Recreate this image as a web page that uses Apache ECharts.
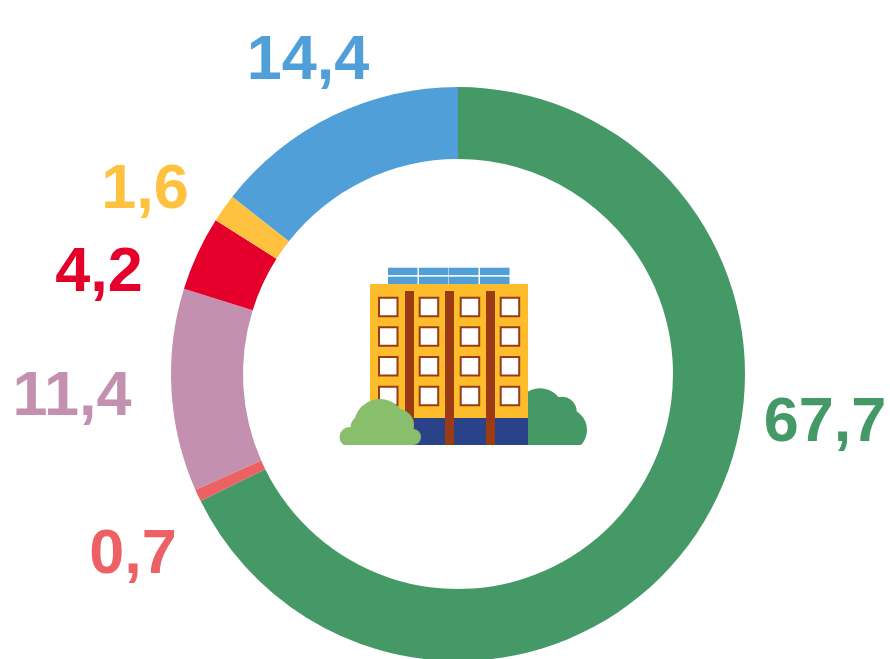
<!DOCTYPE html>
<html>
<head>
<meta charset="utf-8">
<style>
  html, body { margin: 0; padding: 0; background: #fff; }
  #chart { width: 890px; height: 659px; }
</style>
<script src="https://cdn.jsdelivr.net/npm/echarts@6/dist/echarts.min.js"></script>
</head>
<body>
<div id="chart"></div>
<script>
// clockwise from 12 o'clock
var sliceNames = ['A', 'B', 'C', 'D', 'E', 'F']
var sliceValues = [67.7, 0.7, 11.4, 4.2, 1.6, 14.4]
var sliceColors = ['#459966', '#EC6164', '#C490B0', '#E4002B', '#FFC240', '#519FD8']
// label anchors, the labels sit away from the ring
var labelX = [825, 133, 72, 99, 145, 308]
var labelY = [424, 556, 398, 274, 191, 62]

var YELLOW = '#FDBC2C'
var BROWN = '#9A3B14'
var NAVY = '#2A4288'
var SOLAR = '#519FD8'
var BUSH_LIGHT = '#88BE6C'
var BUSH_DARK = '#459966'

function rect(x, y, w, h, fill) {
  return {
    type: 'rect',
    shape: { x: x, y: y, width: w, height: h },
    style: { fill: fill }
  }
}

function circle(cx, cy, r, fill) {
  return { type: 'circle', shape: { cx: cx, cy: cy, r: r }, style: { fill: fill } }
}

// the building in the hole of the ring
function buildingIcon() {
  var els = []
  // dark bush goes behind the building
  els.push(circle(540, 411.7, 23.5, BUSH_DARK))
  els.push(circle(561.7, 411.7, 15, BUSH_DARK))
  els.push(circle(565, 430, 22, BUSH_DARK))
  els.push(rect(528, 410, 37, 35, BUSH_DARK))
  // solar panels
  ;[388, 419, 449, 480].forEach(function (x) {
    els.push(rect(x, 267.7, 29.5, 7.4, SOLAR))
    els.push(rect(x, 276.7, 29.5, 7.3, SOLAR))
  })
  els.push(rect(370, 284, 158, 134, YELLOW))
  els.push(rect(370, 418, 158, 27, NAVY))
  ;[405, 445, 486].forEach(function (x) {
    els.push(rect(x, 291, 9, 154, BROWN))
  })
  ;[379, 419.7, 460.7, 500.7].forEach(function (x) {
    ;[297.7, 327.3, 357, 386.7].forEach(function (y) {
      els.push({
        type: 'rect',
        shape: { x: x, y: y, width: 18.5, height: 18.5 },
        style: { fill: '#fff', stroke: BROWN, lineWidth: 2 }
      })
    })
  })
  // light bush in front, the white rect below cuts both off flat
  els.push(circle(380, 425, 26, BUSH_LIGHT))
  els.push(circle(361.7, 426.7, 11, BUSH_LIGHT))
  els.push(circle(349.5, 437, 10, BUSH_LIGHT))
  els.push(circle(398, 425, 16, BUSH_LIGHT))
  els.push(circle(413, 437, 8, BUSH_LIGHT))
  els.push(rect(350, 428, 62, 17, BUSH_LIGHT))
  els.push(rect(330, 445, 270, 30, '#fff'))
  return els
}

var chart = echarts.init(document.getElementById('chart'))
chart.setOption({
  animation: false,
  backgroundColor: '#fff',
  series: [{
    type: 'pie',
    center: [458, 374],
    radius: [215, 287],
    startAngle: 90,
    clockwise: true,
    minAngle: 0,
    avoidLabelOverlap: false,
    silent: true,
    label: {
      show: true,
      position: 'outside',
      fontFamily: '"Liberation Sans", Arial, sans-serif',
      fontWeight: 'bold',
      fontSize: 63,
      formatter: function (p) {
        return String(p.value).replace('.', ',')
      }
    },
    labelLine: { show: false },
    labelLayout: function (p) {
      return {
        x: labelX[p.dataIndex],
        y: labelY[p.dataIndex],
        align: 'center',
        verticalAlign: 'middle'
      }
    },
    data: sliceValues.map(function (v, i) {
      return {
        name: sliceNames[i],
        value: v,
        itemStyle: { color: sliceColors[i] },
        label: { color: sliceColors[i] }
      }
    })
  }],
  graphic: { elements: buildingIcon() }
})
</script>
</body>
</html>
